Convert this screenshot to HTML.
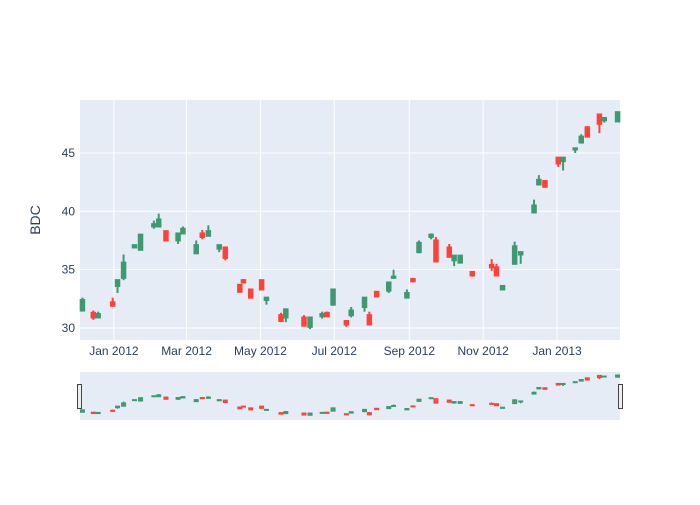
<!DOCTYPE html>
<html><head><meta charset="utf-8"><style>
body{margin:0;background:#fff;font-family:"Liberation Sans",sans-serif}
svg text{font-family:"Liberation Sans",sans-serif;fill:#2a3f5f;font-size:12px}
</style></head><body>
<svg id="c" width="700" height="500" xmlns="http://www.w3.org/2000/svg">
<rect x="80" y="100" width="540" height="240" fill="#e5ecf6"/>
<g id="grid"></g>
<g id="main"></g>
<g id="ylab"></g>
<g id="xlab"></g>
<text x="40" y="220" text-anchor="middle" transform="rotate(-90 40 220)" font-size="14" style="font-size:14px">BDC</text>
<rect x="80" y="372" width="540" height="48" fill="#e5ecf6"/>
<g id="slider"></g>
<rect x="77.5" y="384.5" width="4" height="24" fill="#eee" stroke="#444"/>
<rect x="618.5" y="384.5" width="4" height="24" fill="#eee" stroke="#444"/>
</svg>
<script>
const dates=["2011-12-06","2011-12-15","2011-12-19","2011-12-31","2012-01-04","2012-01-09","2012-01-18","2012-01-23","2012-02-03","2012-02-07","2012-02-13","2012-02-23","2012-02-27","2012-03-09","2012-03-14","2012-03-19","2012-03-28","2012-04-02","2012-04-14","2012-04-17","2012-04-23","2012-05-02","2012-05-06","2012-05-18","2012-05-22","2012-06-06","2012-06-11","2012-06-21","2012-06-25","2012-06-30","2012-07-11","2012-07-15","2012-07-26","2012-07-30","2012-08-05","2012-08-15","2012-08-19","2012-08-30","2012-09-04","2012-09-09","2012-09-19","2012-09-23","2012-10-04","2012-10-08","2012-10-13","2012-10-23","2012-11-08","2012-11-12","2012-11-17","2012-11-27","2012-12-02","2012-12-13","2012-12-17","2012-12-22","2013-01-02","2013-01-06","2013-01-16","2013-01-21","2013-01-26","2013-02-05","2013-02-09","2013-02-20"];
const open=[31.5,31.3,30.9,32.2,33.6,34.3,36.9,36.7,38.7,38.7,38.3,37.5,38.1,36.4,38.1,37.9,36.8,36.9,33.7,34.1,33.3,34.1,32.4,31.1,30.9,30.9,30.1,31.0,31.3,32.0,30.6,31.1,31.8,31.1,33.1,33.2,34.3,32.6,34.2,36.5,37.8,37.5,36.9,35.8,35.6,34.8,35.4,35.2,33.3,35.5,36.3,39.9,42.3,42.6,44.6,44.3,45.3,45.9,47.2,48.3,47.8,47.7];
const high=[32.6,31.5,31.4,32.6,34.1,36.3,37.1,38.0,39.2,39.8,38.3,38.1,38.7,37.5,38.4,38.8,37.1,36.9,33.7,34.2,33.3,34.1,32.6,31.3,31.6,31.1,30.9,31.4,31.4,33.3,30.6,31.8,32.6,31.4,33.1,33.9,35.0,33.3,34.3,37.5,38.1,37.8,37.2,36.2,36.2,34.8,35.9,35.5,33.6,37.4,36.5,41.0,43.1,42.6,44.6,44.6,45.4,46.6,47.3,48.3,48.0,48.5];
const low=[31.4,30.7,30.9,31.9,33.0,34.1,36.9,36.7,38.5,38.7,37.5,37.2,38.1,36.4,37.6,37.9,36.5,35.8,33.1,33.9,32.6,33.3,32.0,30.5,30.5,30.2,29.9,30.8,31.0,31.9,30.1,30.9,31.4,30.3,32.7,33.0,34.2,32.6,33.9,36.4,37.6,35.7,36.1,35.3,35.6,34.4,34.9,34.5,33.3,35.5,35.5,39.9,42.3,42.1,43.8,43.5,45.0,45.8,46.4,46.7,47.6,47.7];
const close=[32.4,30.9,31.2,31.9,34.1,35.6,37.1,38.0,38.9,39.3,37.5,38.1,38.5,37.1,37.8,38.3,37.1,36.0,33.1,33.9,32.6,33.3,32.6,30.6,31.6,30.2,30.9,31.2,31.0,33.3,30.3,31.5,32.6,30.3,32.7,33.9,34.4,33.0,34.0,37.3,38.0,35.7,36.1,36.2,36.2,34.5,35.2,34.5,33.6,37.0,36.5,40.5,42.7,42.1,44.1,44.6,45.4,46.4,46.4,47.5,48.0,48.5];
const yTicks=[30,35,40,45];
const xTicks=["2012-01-01","2012-03-01","2012-05-01","2012-07-01","2012-09-01","2012-11-01","2013-01-01"];
const xTickLabels=["Jan 2012","Mar 2012","May 2012","Jul 2012","Sep 2012","Nov 2012","Jan 2013"];
const NS="http://www.w3.org/2000/svg";
const t=s=>Date.parse(s+"T00:00:00Z");
const x0=t("2011-12-04"),x1=t("2013-02-22");
const X=d=>80+(t(d)-x0)/(x1-x0)*540;
const Y=v=>340-(v-28.97)/(49.54-28.97)*240;
const SY=v=>420-(v-27.8)/(50-27.8)*48;
function mk(tag,a,parent){const e=document.createElementNS(NS,tag);for(const k in a)e.setAttribute(k,a[k]);document.getElementById(parent).appendChild(e);return e;}
yTicks.forEach(v=>{
 const l=mk("line",{x1:80,x2:620,y1:Y(v),y2:Y(v),stroke:"#fff","stroke-width":1},"grid");
 
 
 const tx=mk("text",{x:75,y:Y(v)+4,"text-anchor":"end"},"ylab");tx.textContent=v;
 
 
});
xTicks.forEach((d,i)=>{
 const l=mk("line",{x1:X(d),x2:X(d),y1:100,y2:340,stroke:"#fff","stroke-width":1},"grid");
 
 
 const tx=mk("text",{x:X(d),y:355,"text-anchor":"middle"},"xlab");tx.textContent=xTickLabels[i];
 
 
});
function candle(i,yf,parent,w,lw){
 const up=close[i]>=open[i];const col=up?"#3D9970":"#FF4136";const x=X(dates[i]);
 const g=mk("g",{},parent);
 
 
 const top=yf(Math.max(open[i],close[i])),bot=yf(Math.min(open[i],close[i]));
 const a=document.createElementNS(NS,"line");
 a.setAttribute("x1",x);a.setAttribute("x2",x);a.setAttribute("y1",yf(high[i]));a.setAttribute("y2",yf(low[i]));a.setAttribute("stroke",col);a.setAttribute("stroke-width",lw);g.appendChild(a);
 const r=document.createElementNS(NS,"rect");
 r.setAttribute("x",x-w/2);r.setAttribute("y",top);r.setAttribute("width",w);r.setAttribute("height",Math.max(bot-top,0.5));
 r.setAttribute("fill",col);r.setAttribute("fill-opacity",0.5);r.setAttribute("stroke",col);r.setAttribute("stroke-width",lw);g.appendChild(r);
}
dates.forEach((d,i)=>{candle(i,Y,"main",3.5,2);candle(i,SY,"slider",3.5,1.5);});
</script>
</body></html>
